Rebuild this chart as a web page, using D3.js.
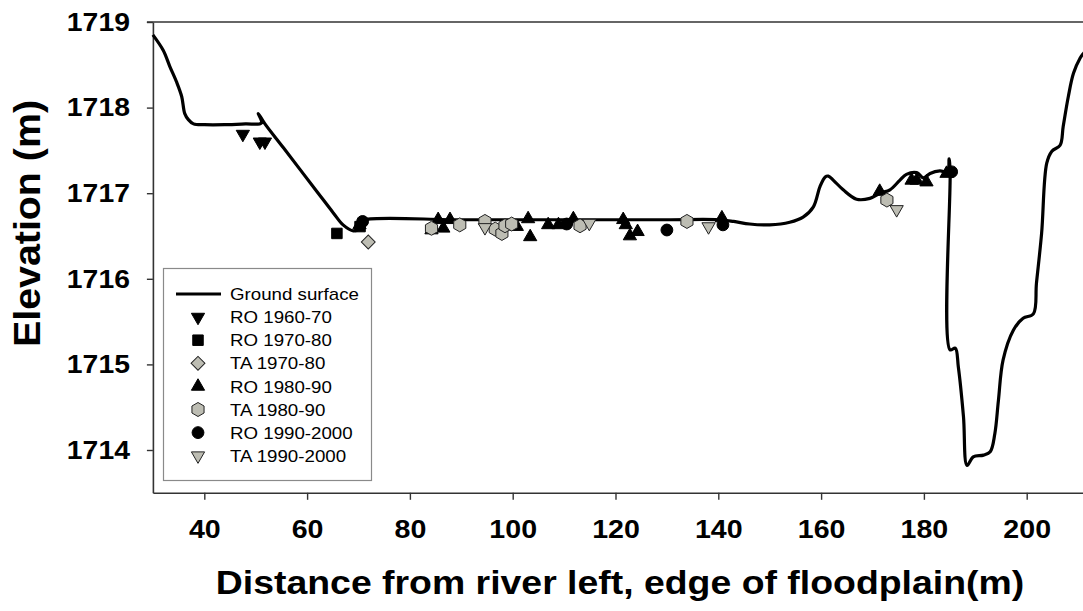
<!DOCTYPE html>
<html><head><meta charset="utf-8">
<script src="https://cdn.jsdelivr.net/npm/d3@7"></script>
<style>html,body{margin:0;padding:0;background:#fff;} svg{display:block;font-family:"Liberation Sans",Arial,sans-serif;}</style>
</head><body><svg id="chart" width="1083" height="611"></svg>
<script>
const xTicks = [40, 60, 80, 100, 120, 140, 160, 180, 200];
const yTicks = [1714, 1715, 1716, 1717, 1718, 1719];
const xTitle = "Distance from river left, edge of floodplain(m)";
const yTitle = "Elevation (m)";

const groundX = [30, 32.0, 33.3, 34.6, 35.6, 36.2, 36.9, 37.9, 40, 44, 48, 51.1, 50.5, 51.8, 55.4, 61.9, 65.1, 67.0, 69.0, 70.0, 70.6, 71.3, 90, 110, 130, 140, 143, 146.1, 150, 153.9, 156.5, 158.5, 159.8, 160.8, 161.4, 162.4, 164.3, 166.9, 169.5, 171.5, 173.4, 175.3, 176.6, 178.6, 179.9, 181.2, 183.1, 184.6, 184.9, 185.1, 185.1, 186.1, 186.7, 187.7, 188.4, 189.6, 191.6, 192.9, 193.8, 194.5, 195.4, 197.4, 199.3, 201.3, 201.9, 202.9, 203.9, 204.9, 206.5, 207.1, 208.1, 209.1, 210.4, 211.0, 212.0];
const groundY = [1718.85, 1718.67, 1718.48, 1718.30, 1718.13, 1717.93, 1717.86, 1717.81, 1717.80, 1717.80, 1717.81, 1717.82, 1717.93, 1717.81, 1717.53, 1717.02, 1716.77, 1716.63, 1716.56, 1716.58, 1716.66, 1716.69, 1716.69, 1716.69, 1716.69, 1716.69, 1716.67, 1716.64, 1716.63, 1716.66, 1716.72, 1716.84, 1717.08, 1717.19, 1717.20, 1717.15, 1717.04, 1716.93, 1716.94, 1717.00, 1717.04, 1717.15, 1717.22, 1717.24, 1717.18, 1717.23, 1717.26, 1717.25, 1717.40, 1717.25, 1715.17, 1715.19, 1714.97, 1714.39, 1713.82, 1713.92, 1713.94, 1713.98, 1714.19, 1714.58, 1715.05, 1715.40, 1715.54, 1715.59, 1715.95, 1716.53, 1717.35, 1717.49, 1717.56, 1717.78, 1718.13, 1718.40, 1718.58, 1718.63, 1718.70];

const ro1960_70 = [[47.5, 1717.69], [50.8, 1717.60], [51.8, 1717.60]];
const ro1970_80 = [[65.8, 1716.53], [70.3, 1716.61]];
const ta1970_80 = [[71.9, 1716.43]];
const ro1980_90 = [[70.2, 1716.63], [84.2, 1716.57], [85.5, 1716.69], [86.5, 1716.59], [87.8, 1716.69], [100.8, 1716.61], [103.0, 1716.70], [103.4, 1716.49], [106.9, 1716.63], [108.9, 1716.63], [111.8, 1716.70], [121.5, 1716.69], [122.0, 1716.63], [122.8, 1716.50], [124.3, 1716.55], [140.7, 1716.71], [171.4, 1717.02], [177.6, 1717.15], [178.6, 1717.15], [180.5, 1717.13], [184.4, 1717.23]];
const ta1980_90 = [[84.2, 1716.59], [89.7, 1716.63], [94.6, 1716.67], [96.6, 1716.58], [97.9, 1716.53], [98.5, 1716.62], [99.8, 1716.64], [113.1, 1716.62], [133.9, 1716.67], [172.8, 1716.92]];
const ro1990_2000 = [[70.8, 1716.67], [110.5, 1716.64], [130.0, 1716.57], [140.9, 1716.63], [185.4, 1717.25]];
const ta1990_2000 = [[94.6, 1716.60], [114.9, 1716.65], [138.1, 1716.61], [174.7, 1716.81]];

const legendNames = ["RO 1960-70", "RO 1970-80", "TA 1970-80", "RO 1980-90", "TA 1980-90", "RO 1990-2000", "TA 1990-2000"];

const GRAY = "#bdbdb3";
const STRETCH = 1.13;

const svg = d3.select("#chart");
const x = d3.scaleLinear().domain([30, 215]).range([152.9, 152.9 + 185 * 5.14]);
const y = d3.scaleLinear().domain([1713.5, 1719]).range([492.8, 22]);

function stretch(sel, k) {
  sel.each(function () {
    const len = this.getComputedTextLength();
    d3.select(this).attr("textLength", len * k).attr("lengthAdjust", "spacingAndGlyphs");
  });
}

const hexPath = (r) => {
  const pts = d3.range(6).map(i => {
    const a = -Math.PI / 2 + i * Math.PI / 3;
    return [r * Math.cos(a), r * Math.sin(a)];
  });
  return "M" + pts.map(p => p.join(",")).join("L") + "Z";
};
const styles = [
  { name: legendNames[0], data: ro1960_70, path: d3.symbol(d3.symbolTriangle, 76)(), rot: 180, fill: "#000", stroke: "#000" },
  { name: legendNames[1], data: ro1970_80, path: d3.symbol(d3.symbolSquare, 110)(), rot: 0, fill: "#000", stroke: "#000" },
  { name: legendNames[2], data: ta1970_80, path: d3.symbol(d3.symbolSquare, 96)(), rot: 45, fill: GRAY, stroke: "#222" },
  { name: legendNames[3], data: ro1980_90, path: d3.symbol(d3.symbolTriangle, 76)(), rot: 0, fill: "#000", stroke: "#000" },
  { name: legendNames[4], data: ta1980_90, path: hexPath(7), rot: 0, fill: GRAY, stroke: "#222" },
  { name: legendNames[5], data: ro1990_2000, path: d3.symbol(d3.symbolCircle, 110)(), rot: 0, fill: "#000", stroke: "#000" },
  { name: legendNames[6], data: ta1990_2000, path: d3.symbol(d3.symbolTriangle, 76)(), rot: 180, fill: GRAY, stroke: "#222" }
];

const axisColor = "#333";
const xAxis = svg.append("g").attr("transform", `translate(0,${y(1713.5)})`)
  .call(d3.axisBottom(x).tickValues(xTicks).tickFormat(d3.format("d")).tickSize(7).tickSizeOuter(0).tickPadding(20));
const yAxis = svg.append("g").attr("transform", `translate(${x(30)},0)`)
  .call(d3.axisLeft(y).tickValues(yTicks).tickFormat(d3.format("d")).tickSize(6).tickSizeOuter(0).tickPadding(17));
[xAxis, yAxis].forEach(g => {
  g.selectAll("path.domain").attr("stroke", axisColor).attr("stroke-width", 1.6);
  g.selectAll(".tick line").attr("stroke", axisColor).attr("stroke-width", 1.4);
  g.selectAll(".tick text").attr("font-family", "Liberation Sans, Arial, sans-serif")
    .attr("font-size", 26).attr("font-weight", "bold").attr("fill", "#000");
});
stretch(xAxis.selectAll(".tick text"), 1.1);
stretch(yAxis.selectAll(".tick text"), 1.09);

svg.append("line").attr("x1", x(30) - 6).attr("x2", x(215)).attr("y1", y(1719)).attr("y2", y(1719))
  .attr("stroke", axisColor).attr("stroke-width", 1.6);

const ground = groundX.map((d, i) => [d, groundY[i]]);
svg.append("path").datum(ground)
  .attr("fill", "none").attr("stroke", "#000").attr("stroke-width", 3.2).attr("stroke-linejoin", "round")
  .attr("d", d3.line().x(d => x(d[0])).y(d => y(d[1])).curve(d3.curveCatmullRom.alpha(0.5)));

styles.forEach(s => {
  svg.append("g").selectAll("path").data(s.data).join("path")
    .attr("d", s.path)
    .attr("transform", d => `translate(${x(d[0])},${y(d[1])}) rotate(${s.rot})`)
    .attr("fill", s.fill).attr("stroke", s.stroke).attr("stroke-width", 1);
});

const lg = svg.append("g");
lg.append("rect").attr("x", 163.5).attr("y", 268.5).attr("width", 208).attr("height", 212)
  .attr("fill", "#fff").attr("stroke", "#8a8a8a").attr("stroke-width", 1.2);
const rowY = i => 294 + i * 23.1;
lg.append("line").attr("x1", 176).attr("x2", 221).attr("y1", rowY(0)).attr("y2", rowY(0))
  .attr("stroke", "#000").attr("stroke-width", 3);
lg.append("text").attr("x", 230).attr("y", rowY(0)).attr("dy", "0.36em").text("Ground surface");
styles.forEach((s, i) => {
  lg.append("path").attr("d", s.path)
    .attr("transform", `translate(198,${rowY(i + 1)}) rotate(${s.rot})`)
    .attr("fill", s.fill).attr("stroke", s.stroke).attr("stroke-width", 1);
  lg.append("text").attr("x", 230).attr("y", rowY(i + 1)).attr("dy", "0.36em").text(s.name);
});
lg.selectAll("text").attr("font-size", 17).attr("fill", "#000");
stretch(lg.selectAll("text"), 1.1);

const xt = svg.append("text").attr("x", 620).attr("y", 594).attr("text-anchor", "middle")
  .attr("font-size", 34).attr("font-weight", "bold").attr("fill", "#000").text(xTitle);
stretch(xt, 1.1);
svg.append("text").attr("transform", "translate(40,223.5) rotate(-90) scale(1,1.13)")
  .attr("text-anchor", "middle").attr("font-size", 33).attr("font-weight", "bold").attr("fill", "#000")
  .attr("textLength", 247).attr("lengthAdjust", "spacingAndGlyphs").text(yTitle);
</script>
</body></html>
